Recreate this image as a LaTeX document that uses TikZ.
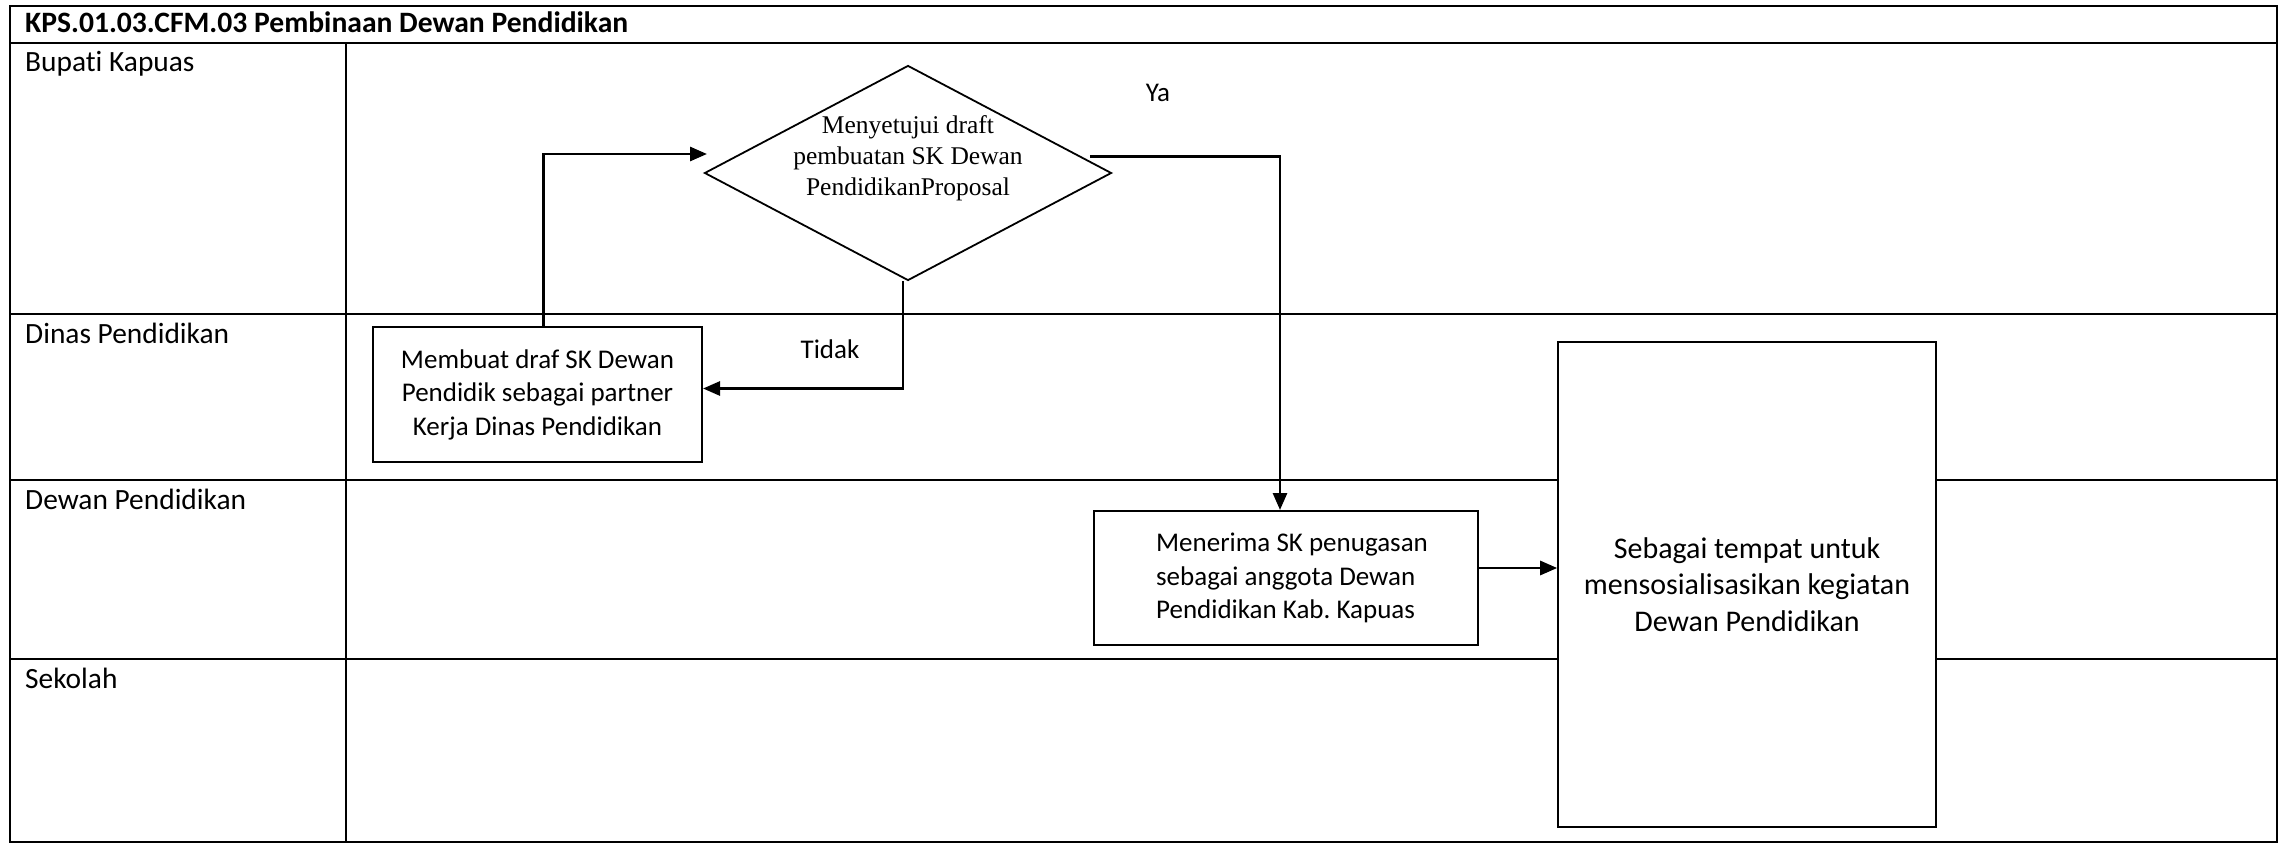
\documentclass[tikz,border=0pt]{standalone}
\usepackage{fontspec}
\setmainfont{Carlito}[Ligatures=NoCommon]
\newfontfamily\serifdm{Liberation Serif}
\usetikzlibrary{arrows.meta,shapes.geometric,calc}
\begin{document}
\frenchspacing
\begin{tikzpicture}[x=1pt,y=-1pt,
  lane/.style={line width=2.6pt},
  box/.style={draw, line width=2pt, inner sep=0pt, align=center, fill=white,
    font=\fontsize{27}{33.5}\selectfont},
  arr/.style={line width=2.8pt, -{Triangle[length=17pt,width=14pt]}},
  lbl/.style={anchor=base west, inner sep=0pt, font=\fontsize{29.4}{35}\selectfont},
  note/.style={inner sep=0pt, font=\fontsize{27}{33}\selectfont},
]
\useasboundingbox (0,0) rectangle (2279,843);
% frame and lanes
\draw[lane] (10,6) rectangle (2277,842);
\draw[lane] (10,43) -- (2277,43);
\draw[lane] (346,43) -- (346,842);
\draw[lane] (10,314) -- (2277,314);
\draw[lane] (10,480) -- (2277,480);
\draw[lane] (10,659) -- (2277,659);
% titles
\node[lbl, font=\fontsize{29.6}{35}\selectfont\bfseries] (title) at (25,33) {KPS.01.03.CFM.03 Pembinaan Dewan Pendidikan};
\node[lbl] (l1) at (25,71) {Bupati Kapuas};
\node[lbl] (l2) at (25,343) {Dinas Pendidikan};
\node[lbl] (l3) at (25,509) {Dewan Pendidikan};
\node[lbl] (l4) at (25,688) {Sekolah};
% nodes
\node[box, minimum width=329pt, minimum height=135pt] (mb) at (537.5,394.5)
  {Membuat draf SK Dewan\\Pendidik sebagai partner\\Kerja Dinas Pendidikan};
\node[draw, diamond, line width=1.8pt, inner sep=0pt, minimum width=407pt, minimum height=215pt] (dm) at (908,173) {};
\node[inner sep=0pt, align=center, font=\serifdm\fontsize{25.5}{31}\selectfont] (dmt) at (908,158)
  {Menyetujui draft\\pembuatan SK Dewan\\PendidikanProposal};
\node[box, align=left, minimum width=384pt, minimum height=134pt] (mn) at (1286,578)
  {\hspace*{12pt}Menerima SK penugasan\\\hspace*{12pt}sebagai anggota Dewan\\\hspace*{12pt}Pendidikan Kab. Kapuas};
\node[box, line width=1.6pt, minimum width=378pt, minimum height=485pt, font=\fontsize{30}{36.5}\selectfont] (big) at (1747,584.5)
  {Sebagai tempat untuk\\mensosialisasikan kegiatan\\Dewan Pendidikan};
% labels
\node[note] (ya) at (1158,93) {Ya};
\node[note] (tidak) at (830,349) {Tidak};
% connectors
\coordinate (inA) at (707,154);
\coordinate (yaS) at ($(dm.east)!0.15!(dm.north)$);
\draw[arr] ([xshift=6pt]mb.north) |- (inA);
\draw[arr] ([xshift=-5pt]dm.south) |- ([yshift=6pt]mb.east);
\draw[arr] ([xshift=8pt]yaS) -| ([xshift=-6pt]mn.north);
\draw[arr] ([yshift=10pt]mn.east) -- ([yshift=10pt]mn.east -| big.west);
\end{tikzpicture}
\end{document}
